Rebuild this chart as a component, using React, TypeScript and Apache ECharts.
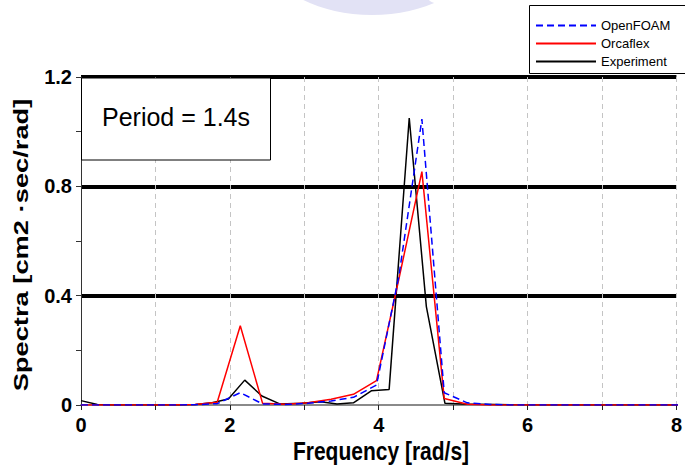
import React, { useEffect, useRef } from "react";
import * as echarts from "echarts";

// Frequency grid shared by the two numerical models [rad/s]
const modelFreq = [
  0, 0.31, 0.61, 0.92, 1.22, 1.53, 1.83, 2.14, 2.44, 2.75, 3.05, 3.36, 3.66, 3.97,
  4.27, 4.58, 4.88, 5.19, 5.49, 5.8, 6.1, 6.41, 6.71, 7.02, 7.32, 7.63, 7.93, 8.24,
];
const openfoamSpectra = [
  0, 0, 0, 0, 0, 0.001, 0.005, 0.045, 0.004, 0.002, 0.006, 0.015, 0.028, 0.073,
  0.47, 1.046, 0.045, 0.008, 0.002, 0, 0, 0, 0, 0, 0, 0, 0, 0,
];
const orcaflexSpectra = [
  0, 0, 0, 0, 0, 0.002, 0.01, 0.29, 0.006, 0.003, 0.008, 0.021, 0.039, 0.089,
  0.46, 0.854, 0.024, 0.003, 0, 0, 0, 0, 0, 0, 0, 0, 0, 0,
];

// Measured spectrum
const expFreq = [
  0, 0.22, 0.44, 0.66, 0.88, 1.1, 1.32, 1.54, 1.76, 1.98, 2.2, 2.43, 2.67, 2.97,
  3.22, 3.44, 3.66, 3.9, 4.14, 4.41, 4.64, 4.89, 5.12, 5.35, 5.58, 5.82, 6.3, 6.8,
  7.3, 7.8, 8.3,
];
const expSpectra = [
  0.016, 0.002, 0, 0, 0, 0, 0, 0.002, 0.008, 0.022, 0.091, 0.033, 0.004, 0.006,
  0.012, 0.004, 0.008, 0.052, 0.057, 1.05, 0.36, 0.006, 0.004, 0.003, 0.002, 0.001,
  0, 0, 0, 0, 0,
];

const xTicks = [0, 2, 4, 6, 8];
const yTicks = [0, 0.4, 0.8, 1.2];

const seriesNames = ["OpenFOAM", "Orcaflex", "Experiment"];
const periodText = "Period = 1.4s";
const xTitle = "Frequency [rad/s]";
const yTitle = "Spectra [cm2 ·sec/rad]";

const pairs = (xs: number[], ys: number[]) => xs.map((x, i) => [x, ys[i]]);

const FONT = "'Liberation Sans', Arial, sans-serif";

export default function App() {
  const ref = useRef<HTMLDivElement>(null);

  useEffect(() => {
    if (!ref.current) return;
    const chart = echarts.init(ref.current, null, { renderer: "svg" });

    chart.setOption({
      animation: false,
      backgroundColor: "#ffffff",
      grid: { left: 81, right: 5, top: 77, bottom: 63, containLabel: false },
      xAxis: {
        type: "value",
        min: 0,
        max: 8,
        interval: 1,
        axisLine: { show: true, onZero: false, lineStyle: { color: "#8a8a8a", width: 2 } },
        axisTick: { show: true, inside: false, length: 5, lineStyle: { color: "#222", width: 1 } },
        axisLabel: {
          margin: 10,
          fontFamily: FONT,
          fontWeight: "bold",
          fontSize: 20,
          color: "#000",
          formatter: (v: number) => (xTicks.includes(v) ? String(v) : ""),
        },
        splitLine: {
          show: true,
          showMinLine: false,
          lineStyle: { color: "#c4c4c4", width: 1, type: [5, 4] },
        },
      },
      yAxis: {
        type: "value",
        min: 0,
        max: 1.2,
        interval: 0.4,
        axisLine: { show: true, lineStyle: { color: "#333", width: 1 } },
        axisTick: { show: true, inside: false, length: 5, lineStyle: { color: "#333" } },
        minorTick: { show: true, splitNumber: 2, length: 5, lineStyle: { color: "#333" } },
        axisLabel: {
          margin: 9,
          fontFamily: FONT,
          fontWeight: "bold",
          fontSize: 20,
          color: "#000",
          formatter: (v: number) => {
            const t = yTicks.find((k) => Math.abs(k - v) < 1e-6);
            return t === undefined ? "" : String(t);
          },
        },
        splitLine: {
          show: true,
          showMinLine: false,
          lineStyle: { color: "#000", width: 4, type: "solid" },
        },
      },
      legend: {
        show: true,
        data: seriesNames,
        orient: "vertical",
        left: 535,
        top: 19,
        itemWidth: 60,
        itemHeight: 14,
        itemGap: 5,
        padding: 0,
        itemStyle: { opacity: 0 },
        textStyle: { fontFamily: FONT, fontSize: 13, color: "#000" },
        z: 20,
      },
      series: [
        {
          name: "Experiment",
          type: "line",
          data: pairs(expFreq, expSpectra),
          symbol: "none",
          lineStyle: { color: "#000000", width: 1.5 },
          itemStyle: { color: "#000000" },
          z: 3,
        },
        {
          name: "Orcaflex",
          type: "line",
          data: pairs(modelFreq, orcaflexSpectra),
          symbol: "none",
          lineStyle: { color: "#ff0000", width: 1.5 },
          itemStyle: { color: "#ff0000" },
          z: 4,
        },
        {
          name: "OpenFOAM",
          type: "line",
          data: pairs(modelFreq, openfoamSpectra),
          symbol: "none",
          lineStyle: { color: "#0000ff", width: 1.5, type: [7, 4] },
          itemStyle: { color: "#0000ff" },
          z: 5,
        },
      ],
      graphic: [
        // faint emblem at the top edge
        {
          type: "ellipse",
          shape: { cx: 372, cy: -48, rx: 106, ry: 63 },
          style: { fill: "#e2e2f5" },
          silent: true,
          z: 0,
        },
        {
          type: "ellipse",
          shape: { cx: 448, cy: -2, rx: 20, ry: 7 },
          style: { fill: "#ffffff" },
          silent: true,
          z: 0,
        },
        // legend frame
        {
          type: "rect",
          shape: { x: 529.5, y: 5.5, width: 170, height: 68 },
          style: { fill: "#ffffff", stroke: "#000", lineWidth: 1 },
          z: 1,
        },
        // period annotation box
        {
          type: "rect",
          shape: { x: 81.5, y: 78, width: 189, height: 82 },
          style: { fill: "#ffffff", stroke: "#000", lineWidth: 1 },
          z: 15,
        },
        {
          type: "text",
          x: 176,
          y: 117,
          style: {
            text: periodText,
            fontFamily: FONT,
            fontSize: 25,
            fill: "#000",
            align: "center",
            verticalAlign: "middle",
          },
          z: 16,
        },
        // axis titles
        {
          type: "text",
          x: 381,
          y: 451,
          scaleY: 1.2,
          style: {
            text: xTitle,
            fontFamily: FONT,
            fontWeight: "bold",
            fontSize: 21,
            fill: "#000",
            align: "center",
            verticalAlign: "middle",
          },
          z: 16,
        },
        {
          type: "text",
          x: 21,
          y: 245,
          rotation: Math.PI / 2,
          scaleX: 1.3,
          style: {
            text: yTitle,
            fontFamily: FONT,
            fontWeight: "bold",
            fontSize: 21,
            fill: "#000",
            align: "center",
            verticalAlign: "middle",
          },
          z: 16,
        },
      ],
    });

    return () => chart.dispose();
  }, []);

  return <div ref={ref} style={{ width: 685, height: 468, position: "fixed", left: 0, top: 0 }} />;
}
